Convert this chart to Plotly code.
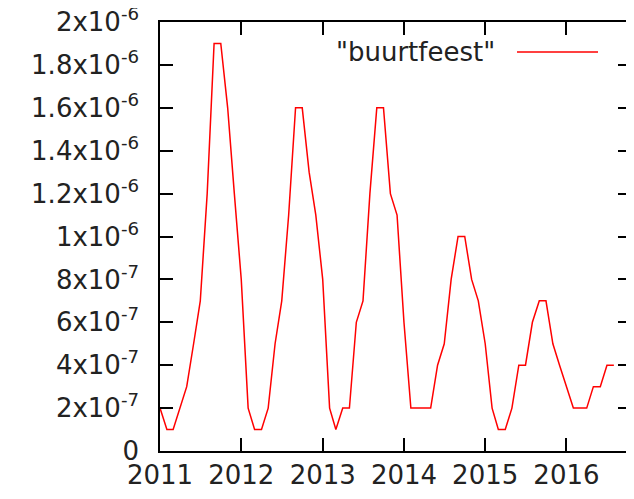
import plotly.graph_objects as go
import pandas as pd

months = pd.date_range("2011-01-01", "2016-08-01", freq="MS")
values = [
    2e-7, 1e-7, 1e-7, 2e-7, 3e-7, 5e-7, 7e-7, 12e-7, 19e-7, 19e-7, 16e-7, 12e-7,   # 2011
    8e-7, 2e-7, 1e-7, 1e-7, 2e-7, 5e-7, 7e-7, 11e-7, 16e-7, 16e-7, 13e-7, 11e-7,   # 2012
    8e-7, 2e-7, 1e-7, 2e-7, 2e-7, 6e-7, 7e-7, 12e-7, 16e-7, 16e-7, 12e-7, 11e-7,   # 2013
    6e-7, 2e-7, 2e-7, 2e-7, 2e-7, 4e-7, 5e-7, 8e-7, 10e-7, 10e-7, 8e-7, 7e-7,      # 2014
    5e-7, 2e-7, 1e-7, 1e-7, 2e-7, 4e-7, 4e-7, 6e-7, 7e-7, 7e-7, 5e-7, 4e-7,        # 2015
    3e-7, 2e-7, 2e-7, 2e-7, 3e-7, 3e-7, 4e-7, 4e-7,                                # 2016
]
series_name = '"buurtfeest"'

y_tickvals = [0, 2e-7, 4e-7, 6e-7, 8e-7, 1e-6, 1.2e-6, 1.4e-6, 1.6e-6, 1.8e-6, 2e-6]
y_ticktext = ["0", "2x10<sup>-7</sup>", "4x10<sup>-7</sup>", "6x10<sup>-7</sup>",
              "8x10<sup>-7</sup>", "1x10<sup>-6</sup>", "1.2x10<sup>-6</sup>",
              "1.4x10<sup>-6</sup>", "1.6x10<sup>-6</sup>", "1.8x10<sup>-6</sup>",
              "2x10<sup>-6</sup>"]
x_tickvals = ["2011-01-01", "2012-01-01", "2013-01-01", "2014-01-01", "2015-01-01", "2016-01-01"]
x_ticktext = ["2011", "2012", "2013", "2014", "2015", "2016"]

FONT = "DejaVu Sans"
FS = 26
TXT = "#222"

fig = go.Figure()
fig.add_trace(go.Scatter(x=months, y=values, mode="lines",
                         line=dict(color="#ff0000", width=1.5),
                         name=series_name, showlegend=False))

axis_common = dict(ticks="inside", ticklen=13, tickwidth=1.5, tickcolor="black",
                   showline=True, linecolor="black", linewidth=1.5, mirror="allticks",
                   showgrid=False, zeroline=False, automargin=False,
                   ticklabeloverflow="allow",
                   tickfont=dict(family=FONT, size=FS, color=TXT))

fig.update_layout(
    width=626, height=491,
    margin=dict(l=152, r=3, t=14, b=48),
    paper_bgcolor="white", plot_bgcolor="white",
    font=dict(family=FONT, size=FS, color=TXT),
    xaxis=dict(range=["2011-01-01", "2016-10-17"], tickvals=x_tickvals, ticktext=x_ticktext,
               **axis_common),
    yaxis=dict(range=[0, 2e-6], tickvals=y_tickvals, ticktext=y_ticktext,
               ticklabelstandoff=14, **axis_common),
)

fig.add_annotation(x=0.7155, y=0.93, xref="paper", yref="paper", text=series_name,
                   showarrow=False, xanchor="right", yanchor="middle",
                   font=dict(family=FONT, size=FS, color=TXT))
fig.add_shape(type="line", xref="paper", yref="paper", x0=0.758, x1=0.93, y0=0.93, y1=0.93,
              line=dict(color="#ff0000", width=1.5))

fig.write_html("out.html")
